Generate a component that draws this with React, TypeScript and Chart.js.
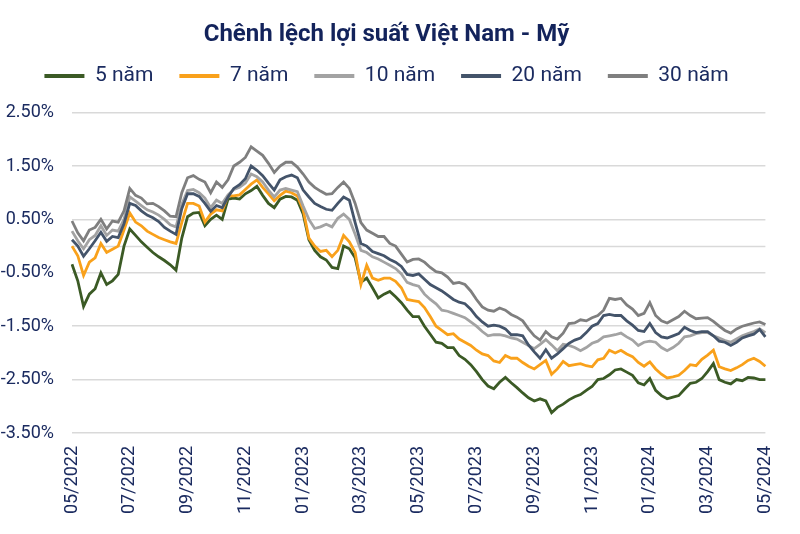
import React, { useEffect, useRef } from 'react';
import { Chart, registerables } from 'chart.js';

Chart.register(...registerables);

const TITLE = 'Chênh lệch lợi suất Việt Nam - Mỹ';
const TICK_LABELS = ['05/2022', '07/2022', '09/2022', '11/2022', '01/2023', '03/2023', '05/2023', '07/2023', '09/2023', '11/2023', '01/2024', '03/2024', '05/2024'];
const POINTS_PER_TICK = 10;
const Y_TICKS = [2.5, 1.5, 0.5, -0.5, -1.5, -2.5, -3.5];
const SERIES_NAMES = ['5 năm', '7 năm', '10 năm', '20 năm', '30 năm'];
const SERIES_COLORS = ['#3b5a25', '#f9a11b', '#a3a3a3', '#44546a', '#7f7f7f'];

// Spread (percentage points), roughly weekly from 05/2022 to 05/2024
const Y5 = [
  -0.34, -0.65, -1.13, -0.9, -0.8, -0.5, -0.72, -0.65, -0.53, 0.0,
  0.32, 0.2, 0.08, -0.02, -0.12, -0.2, -0.27, -0.35, -0.45, 0.15,
  0.55, 0.62, 0.63, 0.38, 0.5, 0.58, 0.5, 0.88, 0.9, 0.88,
  0.98, 1.04, 1.12, 0.95, 0.8, 0.72, 0.88, 0.93, 0.92, 0.86,
  0.6, 0.12, -0.08, -0.2, -0.26, -0.4, -0.42, 0.0, -0.05, -0.22,
  -0.68, -0.6, -0.78, -0.97, -0.9, -0.85, -0.95, -1.06, -1.2, -1.32,
  -1.32, -1.5, -1.65, -1.8, -1.82, -1.9, -1.9, -2.05, -2.12, -2.22,
  -2.35, -2.5, -2.62, -2.67, -2.55, -2.46, -2.56, -2.65, -2.75, -2.84,
  -2.9, -2.86, -2.9, -3.12, -3.02, -2.96, -2.88, -2.82, -2.78, -2.7,
  -2.63, -2.5, -2.48, -2.41, -2.32, -2.3, -2.36, -2.42, -2.56, -2.6,
  -2.48, -2.7, -2.8, -2.86, -2.83, -2.8, -2.68, -2.57, -2.55, -2.48,
  -2.35, -2.2, -2.5, -2.55, -2.58, -2.5, -2.52, -2.46, -2.47, -2.5,
  -2.5,
];
const Y7 = [
  0.0, -0.18, -0.55, -0.3, -0.22, 0.05, -0.12, -0.06, 0.0, 0.3,
  0.62, 0.45, 0.38, 0.28, 0.22, 0.16, 0.12, 0.08, 0.05, 0.44,
  0.8, 0.8, 0.75, 0.45, 0.6, 0.68, 0.66, 0.94, 0.94, 0.96,
  1.06, 1.16, 1.24, 1.1, 0.98, 0.85, 0.95, 1.03, 1.0, 0.94,
  0.68, 0.15, 0.0, -0.1, -0.08, -0.2, -0.08, 0.2, 0.08, -0.12,
  -0.72, -0.36, -0.6, -0.64, -0.6, -0.6, -0.66, -0.78, -1.0, -1.02,
  -1.04, -1.15, -1.32, -1.5, -1.58, -1.66, -1.64, -1.74, -1.8, -1.86,
  -1.95, -2.02, -2.05, -2.15, -2.18, -2.05, -2.1, -2.1, -2.18, -2.25,
  -2.3, -2.22, -2.14, -2.4, -2.3, -2.16, -2.24, -2.22, -2.2, -2.24,
  -2.26, -2.13, -2.1, -1.95, -2.0, -1.95, -2.02, -2.07, -2.18, -2.25,
  -2.17, -2.3, -2.4, -2.47, -2.45, -2.42, -2.33, -2.22, -2.24, -2.12,
  -2.04, -1.95, -2.26, -2.3, -2.33, -2.28, -2.22, -2.14, -2.1, -2.16,
  -2.25,
];
const Y10 = [
  0.28, 0.1, -0.05, 0.12, 0.2, 0.38, 0.2, 0.3, 0.28, 0.5,
  0.92, 0.84, 0.76, 0.68, 0.64, 0.58, 0.5, 0.4, 0.36, 0.78,
  1.04, 1.06, 1.0, 0.9, 0.72, 0.86, 0.8, 0.96, 1.06, 1.1,
  1.18, 1.35, 1.3, 1.2, 1.05, 0.92, 1.05, 1.08, 1.05, 1.02,
  0.75, 0.5, 0.33, 0.36, 0.41, 0.36, 0.52, 0.6, 0.5, 0.22,
  -0.08, -0.12, -0.2, -0.24, -0.3, -0.36, -0.42, -0.52, -0.68, -0.72,
  -0.75, -0.9, -1.0, -1.08, -1.2, -1.22, -1.26, -1.3, -1.34, -1.42,
  -1.5, -1.6, -1.68, -1.66, -1.66, -1.68, -1.72, -1.74, -1.8, -1.86,
  -1.92, -1.84, -1.75, -1.85, -1.96, -1.84, -1.86, -1.9, -1.96, -1.9,
  -1.82, -1.78, -1.7, -1.68, -1.66, -1.63, -1.7, -1.76, -1.86, -1.8,
  -1.78, -1.8, -1.9, -1.96, -1.9, -1.82, -1.7, -1.68, -1.64, -1.62,
  -1.62, -1.68, -1.72, -1.77, -1.8, -1.74, -1.68, -1.64, -1.6, -1.55,
  -1.62,
];
const Y20 = [
  0.12, 0.0, -0.19, -0.05, 0.1, 0.26, 0.09, 0.18, 0.16, 0.42,
  0.8, 0.76, 0.66, 0.58, 0.53, 0.46, 0.35, 0.28, 0.22, 0.7,
  0.98, 0.98, 0.93, 0.8, 0.65, 0.76, 0.72, 0.92, 1.08, 1.15,
  1.26, 1.5, 1.42, 1.32, 1.18, 1.05, 1.24, 1.3, 1.33, 1.28,
  1.05, 0.92, 0.8, 0.74, 0.69, 0.67, 0.8, 0.92, 0.86, 0.44,
  0.05, 0.0, -0.1, -0.14, -0.18, -0.25, -0.3, -0.38, -0.53, -0.55,
  -0.52, -0.62, -0.72, -0.78, -0.84, -0.92, -1.0, -1.05, -1.08, -1.18,
  -1.32, -1.42, -1.5, -1.48, -1.5, -1.55, -1.66, -1.66, -1.68, -1.85,
  -1.98, -2.1, -1.94, -2.1, -2.02, -1.92, -1.82, -1.76, -1.72, -1.62,
  -1.5, -1.45, -1.3, -1.28, -1.3, -1.3, -1.4, -1.48, -1.58, -1.6,
  -1.45, -1.62, -1.7, -1.72, -1.68, -1.64, -1.52, -1.58, -1.62, -1.6,
  -1.6, -1.68, -1.78, -1.8, -1.86, -1.8, -1.72, -1.68, -1.65, -1.56,
  -1.7,
];
const Y30 = [
  0.47, 0.25, 0.1, 0.3, 0.35, 0.5, 0.32, 0.47, 0.45, 0.66,
  1.08, 0.95, 0.9, 0.79, 0.8, 0.74, 0.66, 0.56, 0.55, 1.0,
  1.28, 1.32, 1.25, 1.2, 1.0, 1.2, 1.1, 1.24, 1.5, 1.57,
  1.66, 1.86, 1.78, 1.7, 1.55, 1.38, 1.5, 1.57, 1.57, 1.48,
  1.35, 1.2, 1.1, 1.03, 0.97, 0.98, 1.1, 1.2, 1.08, 0.8,
  0.44, 0.3, 0.24, 0.18, 0.18, 0.05, 0.0, -0.15, -0.3, -0.25,
  -0.24, -0.3, -0.4, -0.48, -0.5, -0.58, -0.7, -0.68, -0.72, -0.84,
  -1.0, -1.14, -1.2, -1.22, -1.16, -1.2, -1.28, -1.33, -1.4, -1.55,
  -1.68, -1.76, -1.6, -1.7, -1.74, -1.63, -1.45, -1.44, -1.38, -1.4,
  -1.34, -1.3, -1.2, -0.98, -1.0, -0.98, -1.1, -1.18, -1.3, -1.26,
  -1.06, -1.3, -1.4, -1.44, -1.38, -1.32, -1.22, -1.3, -1.36, -1.35,
  -1.34, -1.41, -1.5, -1.58, -1.63, -1.55, -1.5, -1.47, -1.44, -1.42,
  -1.47,
];
const SERIES_VALUES = [Y5, Y7, Y10, Y20, Y30];

const TEXT_COLOR = '#1b2b60';
const GRID_COLOR = '#d9d9d9';

const zeroLine = {
  id: 'zeroLine',
  beforeDatasetsDraw(chart: any) {
    const { ctx, chartArea, scales } = chart;
    const y = Math.round(scales.y.getPixelForValue(0)) + 0.5;
    ctx.save();
    ctx.strokeStyle = GRID_COLOR;
    ctx.lineWidth = 1.5;
    ctx.beginPath();
    ctx.moveTo(chartArea.left, y);
    ctx.lineTo(chartArea.right, y);
    ctx.stroke();
    ctx.restore();
  },
};

export default function App() {
  const canvasRef = useRef<HTMLCanvasElement | null>(null);

  useEffect(() => {
    document.body.style.margin = '0';
    const canvas = canvasRef.current;
    if (!canvas) return;
    const labels = Y5.map((_, i) => i);
    const chart = new Chart(canvas, {
      type: 'line',
      data: {
        labels,
        datasets: SERIES_NAMES.map((name, k) => ({
          label: name,
          data: SERIES_VALUES[k],
          borderColor: SERIES_COLORS[k],
          backgroundColor: SERIES_COLORS[k],
          borderWidth: 2.8,
          pointRadius: 0,
          tension: 0,
          fill: false,
          order: SERIES_NAMES.length - k,
        })),
      },
      options: {
        responsive: false,
        animation: false,
        devicePixelRatio: 1,
        layout: { padding: { left: 0, right: 27, top: 0, bottom: 0 } },
        plugins: {
          tooltip: { enabled: false },
          title: {
            display: true,
            text: TITLE,
            color: '#13235b',
            font: { family: 'Roboto', size: 24, weight: 'bold', lineHeight: 0.4 },
            padding: { top: 30, bottom: 0 },
          },
          subtitle: {
            display: true,
            text: '',
            weight: 500,
            font: { size: 1, lineHeight: '16px' },
            padding: 0,
          },
          legend: {
            display: true,
            position: 'top',
            labels: {
              color: TEXT_COLOR,
              font: { family: 'Roboto', size: 21 },
              boxWidth: 40,
              boxHeight: 4,
              padding: 26,
              sort: (a: any, b: any) => a.datasetIndex - b.datasetIndex,
              generateLabels: (c: any) =>
                (Chart.defaults.plugins.legend.labels.generateLabels as any)(c).map((l: any) => ({ ...l, lineWidth: 0 })),
            },
          },
        },
        scales: {
          x: {
            type: 'category',
            grid: { display: false, drawTicks: false },
            border: { display: false },
            ticks: {
              autoSkip: false,
              minRotation: 90,
              maxRotation: 90,
              padding: 13,
              color: TEXT_COLOR,
              font: { family: 'Roboto', size: 18 },
              callback: (_v: any, i: number) =>
                i % POINTS_PER_TICK === 0 ? TICK_LABELS[i / POINTS_PER_TICK] : '',
            },
            afterFit: (scale: any) => {
              scale.height = 101;
            },
          },
          y: {
            type: 'linear',
            min: -3.5,
            max: 2.5,
            grid: { color: GRID_COLOR, lineWidth: 1.5, drawTicks: false },
            border: { display: false },
            afterBuildTicks: (scale: any) => {
              scale.ticks = Y_TICKS.map((v) => ({ value: v }));
            },
            ticks: {
              padding: 18,
              color: TEXT_COLOR,
              font: { family: 'Roboto', size: 18 },
              callback: (v: any) => Number(v).toFixed(2) + '%',
            },
            afterFit: (scale: any) => {
              scale.width = 72;
            },
          },
        },
      },
      plugins: [zeroLine],
    });
    return () => chart.destroy();
  }, []);

  return (
    <div style={{ width: 800, height: 534 }}>
      <canvas ref={canvasRef} width={800} height={534} style={{ display: 'block' }} />
    </div>
  );
}
